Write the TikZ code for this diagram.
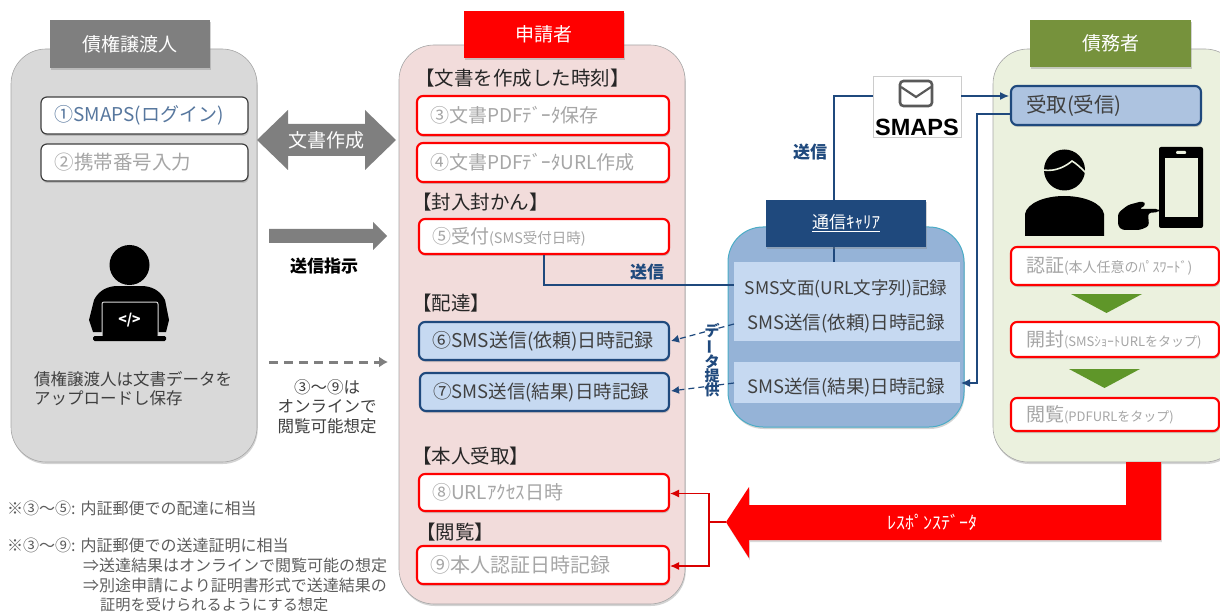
\documentclass[tikz,border=0pt]{standalone}
\usepackage{fontspec}
\setmainfont{Noto Sans CJK JP}
\newfontfamily\logofont{Liberation Sans}
\usetikzlibrary{arrows.meta,shadows}
\definecolor{navy}{HTML}{1F497D}
\definecolor{softblue}{HTML}{C6D9F1}
\definecolor{midblue}{HTML}{95B3D7}
\definecolor{teal}{HTML}{4BACC6}
\definecolor{darkgray}{HTML}{7F7F7F}
\definecolor{paleink}{HTML}{A6A6A6}
\definecolor{ink}{HTML}{404040}
\definecolor{leaf}{HTML}{76923C}
\definecolor{arrowleaf}{HTML}{5F9629}
\definecolor{pinkpanel}{HTML}{F2DCDB}
\definecolor{greenpanel}{HTML}{EBF1DE}
\newcommand{\fsize}[1]{\fontsize{#1}{#1}\selectfont}
\newcommand{\subtxt}[2][13]{{\fsize{#1}#2}}
\tikzset{
	softshadow/.style={drop shadow={opacity=.35,shadow xshift=.8pt,shadow yshift=-2pt}},
	wh/.style 2 args={minimum width=#1pt,minimum height=#2pt},
	panel/.style={draw=gray!70,line width=.6pt,rounded corners=35pt,inner sep=0pt,softshadow},
	header/.style={inner sep=0pt,text=white,font=\fsize{19},softshadow},
	stepbox/.style={rounded corners=6pt,line width=2.1pt,fill=white,inner ysep=0pt,align=left,font=\fsize{19},softshadow},
	redbox/.style={stepbox,draw=red,text=paleink,inner xsep=13pt},
	bluebox/.style={stepbox,draw=navy,fill=softblue,text=ink,inner xsep=13pt},
	greybox/.style={stepbox,draw=ink,text=paleink,inner xsep=13pt,line width=1.2pt},
	heading/.style={anchor=west,inner sep=0pt,text=black!85,font=\fsize{19.5}},
	note/.style={anchor=west,inner sep=0pt,text=ink!85,font=\fsize{16}},
	rowtxt/.style={inner sep=0pt,text=ink,font=\fsize{18.5}},
	link/.style={draw=navy,line width=1.2pt},
	linkarrow/.style={link,-{Latex[length=9pt,width=8pt]}},
	redarrow/.style={draw=red!85!black,line width=1.1pt},
	bluelabel/.style={inner sep=0pt,text=navy,font=\bfseries\fsize{17}}
}
\begin{document}
\begin{tikzpicture}[x=1pt,y=-1pt]
	\useasboundingbox (0,0) rectangle (1220,612);
	\clip (0,0) rectangle (1220,612);

	\node[panel,fill=black!15,wh={246}{413}] (assignor) at (134,255.5) {};
	\node[panel,fill=pinkpanel,wh={286}{559}] (applicant) at (542,324.5) {};
	\node[panel,fill=midblue,draw=teal,line width=1pt,wh={236}{200}] (carrier) at (846,327) {};
	\node[panel,fill=greenpanel,wh={247}{413}] (debtor) at (1116.5,255.5) {};

	\node[header,fill=darkgray,wh={160}{48}] (assignorhead) at (130,44) {債権譲渡人};
	\node[header,fill=red,wh={160}{47}] (applicanthead) at (544,34.5) {申請者};
	\node[header,fill=leaf,wh={161}{47}] (debtorhead) at (1110.5,43.5) {債務者};

	\node[greybox,text=navy!75,text width=180pt,wh={207}{37}] (login) at (144.5,115.5) {①SMAPS(ログイン)};
	\node[greybox,font=\fsize{19.5},text width=180pt,wh={207}{37}] (phone) at (144.5,162.5) {②携帯番号入力};

	\fill[darkgray] (257,140) -- (288,110) -- (288,124) -- (365,124) -- (365,110) -- (396,140) -- (365,170) -- (365,156) -- (288,156) -- (288,170) -- cycle;
	\node[inner sep=0pt,text=white,font=\fsize{19}] (createtxt) at (326.5,140) {文書作成};
	\fill[darkgray] (269,229) -- (373,229) -- (373,222) -- (387,236) -- (373,250) -- (373,243) -- (269,243) -- cycle;
	\node[inner sep=0pt,font=\bfseries\fsize{17}] (instructtxt) at (324,266) {送信指示};
	\coordinate (viewfrom) at (269,362);
	\coordinate (viewto) at (388,362);
	\draw[draw=darkgray,line width=3pt,dashed,dash pattern=on 9pt off 6pt,-{Latex[length=9pt,width=11pt]}] (viewfrom) -- (viewto);
	\node[inner sep=0pt,align=center,text=ink,font=\fsize{16.5},text depth=0pt] (viewtxt) at (327,406) {③～⑨は\\[3pt]オンラインで\\[3pt]閲覧可能想定};

	\fill[black] (129.5,265) circle (20);
	\fill[black] (89,320) -- (94,300) .. controls (99,290) and (108,286) .. (118,286) -- (141,286) .. controls (151,286) and (160,290) .. (165,300) -- (169,320) -- (166,332) -- (93,332) -- cycle;
	\draw[fill=black,draw=black!15,line width=1pt,rounded corners=2pt] (102,302) rectangle (158,338);
	\fill[black,rounded corners=1.5pt] (93,336) rectangle (166,341);
	\node[inner sep=0pt,text=white,font=\bfseries\fsize{14}] (codemark) at (129.5,320) {</>};
	\node[note,text=ink,font=\fsize{16.5}] (assignortxt) at (34,379) {債権譲渡人は文書データを};
	\node[note,text=ink,font=\fsize{16.5}] (assignortxtb) at (34,398) {アップロードし保存};

	\node[note] (notea) at (7,508) {※③～⑤:\hspace{5pt}内証郵便での配達に相当};
	\node[note] (noteb) at (7,545) {※③～⑨:\hspace{5pt}内証郵便での送達証明に相当};
	\node[note] (notec) at (83,565) {⇒送達結果はオンラインで閲覧可能の想定};
	\node[note] (noted) at (83,585) {⇒別途申請により証明書形式で送達結果の};
	\node[note,font=\fsize{15.2}] (notee) at (100,605) {証明を受けられるようにする想定};

	\node[heading] (timehead) at (415,78) {【文書を作成した時刻】};
	\node[redbox,text width=226pt,wh={252}{39}] (bthree) at (543,115.5) {③文書PDFﾃﾞｰﾀ保存};
	\node[redbox,text width=226pt,wh={252}{39}] (bfour) at (543,162.5) {④文書PDFﾃﾞｰﾀURL作成};
	\node[heading] (sealhead) at (412,202) {【封入封かん】};
	\node[redbox,text width=224pt,wh={250}{35}] (bfive) at (544,236.5) {⑤受付\subtxt[14.5]{(SMS受付日時)}};
	\node[heading] (deliverhead) at (412,303) {【配達】};
	\node[bluebox,text width=224pt,wh={250}{38}] (bsix) at (544,341) {⑥SMS送信(依頼)日時記録};
	\node[bluebox,font=\fsize{18.5},text width=223pt,wh={249}{38}] (bseven) at (544.5,392) {⑦SMS送信(結果)日時記録};
	\node[heading] (receivehead) at (412,456) {【本人受取】};
	\node[redbox,text width=224pt,wh={250}{37}] (beight) at (544,492.5) {⑧URLｱｸｾｽ日時};
	\node[heading] (viewhead) at (416,532) {【閲覧】};
	\node[redbox,font=\fsize{20},text width=226pt,wh={252}{38}] (bnine) at (543,565) {⑨本人認証日時記録};

	\node[fill=softblue,inner sep=0pt,wh={226}{79}] (rowupper) at (847,301.5) {};
	\node[fill=softblue,inner sep=0pt,wh={226}{41}] (rowlower) at (847,382.5) {};
	\node[rowtxt,font=\fsize{17.5}] (rowurl) at (846,289) {SMS文面(URL文字列)記録};
	\node[rowtxt] (rowreq) at (846,324) {SMS送信(依頼)日時記録};
	\node[rowtxt] (rowres) at (846,388) {SMS送信(結果)日時記録};

	\node[draw=black!20,fill=white,line width=.8pt,inner sep=0pt,wh={88}{61}] (smaps) at (917,106.5) {};
	\draw[draw=black!65,line width=2.6pt,rounded corners=3.5pt] (900,81) rectangle (932,106);
	\draw[draw=black!65,line width=2.2pt] (901,87) -- (916,97) -- (931,87);
	\node[inner sep=0pt,font=\logofont\bfseries\fsize{23.5}] (smapstxt) at (917,127) {SMAPS};

	\coordinate (carrierup) at (834,262);
	\coordinate (urlin) at (734,285);
	\coordinate (smapsout) at (873,96);
	\coordinate (smapsoutb) at (961,96);
	\draw[link] (carrierup) |- (smapsout);
	\draw[link] (bfive.south) |- (urlin);
	\node[bluelabel] (sendtxt) at (647,272) {送信};
	\node[bluelabel] (sendtxtb) at (810,152) {送信};
	\node[header,fill=navy,font=\fsize{17},wh={160}{47}] (carrierhead) at (846,223.5) {\underline{通信ｷｬﾘｱ}};

	\node[bluebox,fill=softblue!85!navy,inner xsep=15pt,text width=160pt,wh={190}{39},font=\fsize{20.5}] (inbox) at (1106,105.5) {受取(受信)};
	\coordinate (inboxa) at (1009,96);
	\coordinate (inboxb) at (1010,114);
	\coordinate (backto) at (977,383);
	\coordinate (backin) at (961,383);
	\draw[linkarrow] (smapsoutb) -- (inboxa);
	\draw[linkarrow] (inboxb) -| (backto) -- (backin);

	\fill[black] (1064.5,170) circle (20.5);
	\draw[draw=greenpanel,line width=1.6pt] (1043,170) .. controls (1056,172) and (1066,166) .. (1072,161) .. controls (1077,164) and (1081,168) .. (1086,173);
	\fill[black] (1025,236) -- (1025,214) .. controls (1027,203) and (1045,196) .. (1064,196) .. controls (1084,196) and (1102,203) .. (1104,214) -- (1104,236) -- cycle;
	\fill[black,rounded corners=2pt] (1159,147) rectangle (1203,228);
	\fill[greenpanel] (1165,158) rectangle (1198,217);
	\fill[greenpanel,rounded corners=1pt] (1176,151) rectangle (1186,154);
	\fill[black,rounded corners=3pt] (1118,213) -- (1128,205) -- (1143,201) -- (1146,205) -- (1139,209) -- (1159,209) -- (1159,212) -- (1148,213) -- (1149,226) -- (1140,230) -- (1122,230) -- (1118,226) -- cycle;

	\node[redbox,inner xsep=15pt,text width=178pt,wh={208}{38}] (auth) at (1115,266) {認証\subtxt[14]{(本人任意のﾊﾟｽﾜｰﾄﾞ)}};
	\fill[arrowleaf] (1071,294) -- (1142,294) -- (1106.5,313) -- cycle;
	\node[redbox,inner xsep=15pt,text width=178pt,wh={208}{35}] (openup) at (1115,339.5) {開封\subtxt{(SMSｼｮｰﾄURLをタップ)}};
	\fill[arrowleaf] (1069,369) -- (1140,369) -- (1104.5,388) -- cycle;
	\node[redbox,inner xsep=15pt,text width=178pt,wh={208}{33}] (browse) at (1115,414.5) {閲覧\subtxt{(PDFURLをタップ)}};

	\fill[red,drop shadow={opacity=.3,shadow xshift=.8pt,shadow yshift=-2pt}] (1126,462) -- (1161,462) -- (1161,540) -- (749,540) -- (749,558) -- (726,522) -- (749,487) -- (749,505) -- (1126,505) -- cycle;
	\node[inner sep=0pt,text=white,font=\fsize{18}] (responsetxt) at (932,522) {ﾚｽﾎﾟﾝｽﾃﾞｰﾀ};
	\coordinate (redtip) at (726,522);
	\coordinate (redfork) at (709,522);
	\draw[redarrow] (redtip) -- (redfork);
	\draw[redarrow,-{Latex[length=9pt,width=8pt]}] (redfork) |- ([yshift=-1pt]beight.east);
	\draw[redarrow,-{Latex[length=9pt,width=8pt]}] (redfork) |- ([yshift=-1pt]bnine.east);

	\coordinate (reqout) at (734,324);
	\coordinate (resout) at (734,383);
	\coordinate (reqin) at (671,341);
	\coordinate (resin) at (671,391);
	\draw[link,dashed,dash pattern=on 6pt off 4pt,-{Latex[length=8pt,width=8pt]}] (reqout) -- (reqin);
	\draw[link,dashed,dash pattern=on 6pt off 4pt,-{Latex[length=8pt,width=8pt]}] (resout) -- (resin);
	\node[inner sep=0pt,align=center,text=navy,font=\bfseries\fsize{15}] (datatxt) at (712,360) {デ\\[-1pt]\rotatebox[origin=c]{90}{ー}\\[-1pt]タ\\[-1pt]提\\[-1pt]供};
\end{tikzpicture}
\end{document}
